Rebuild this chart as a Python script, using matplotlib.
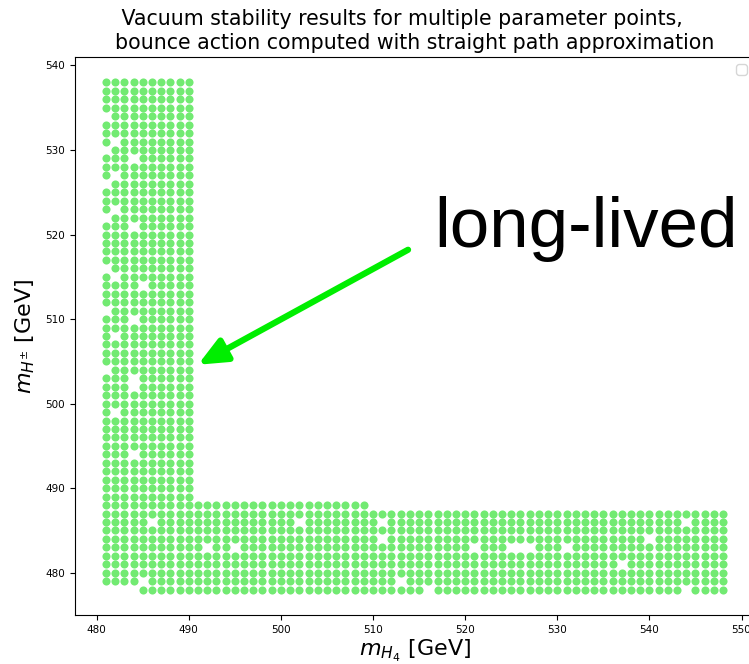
import numpy as np
import matplotlib
matplotlib.use("Agg")
import matplotlib.pyplot as plt

# Scan grid (GeV)
m_H4 = np.arange(481, 549)
m_Hpm = np.arange(478, 539)

# Extent of the scanned L-shaped region, per m_H4 column
col_top_edges = [(490, 538), (509, 488), (548, 487)]   # (last m_H4, top m_Hpm)
col_bottom_edges = [(484, 479), (548, 478)]            # (last m_H4, bottom m_Hpm)

# Parameter points with no result (m_H4, m_Hpm)
missing_upper = [
    (481, 534), (482, 531), (481, 530), (484, 529), (482, 527), (481, 526),
    (482, 523), (481, 522), (484, 521), (481, 516), (482, 515), (485, 514),
    (481, 511), (484, 510), (482, 508), (481, 504), (484, 503), (484, 502),
    (482, 499), (484, 494),
]
missing_lower = [
    (486, 486), (502, 486), (511, 486), (544, 486),
    (511, 484), (540, 484),
    (492, 483), (495, 483), (521, 483), (525, 483), (526, 483), (527, 483),
    (531, 483),
    (537, 481),
    (485, 479), (513, 479),
    (516, 478), (544, 478),
]


def edge_for(x, edges):
    for last, val in edges:
        if x <= last:
            return val
    return edges[-1][1]


pts_x, pts_y = [], []
missing_set = set(missing_upper + missing_lower)
for x in m_H4:
    top = edge_for(x, col_top_edges)
    bottom = edge_for(x, col_bottom_edges)
    for y in m_Hpm:
        if bottom <= y <= top and (x, y) not in missing_set:
            pts_x.append(x)
            pts_y.append(y)

fig = plt.figure(figsize=(7.49, 6.64), dpi=100)
ax = fig.add_axes([75 / 749, 1 - 615 / 664, 679 / 749, 558 / 664])

ax.scatter(pts_x, pts_y, s=34, color="#72ea72", linewidths=0)
ax.set_xlim(477.65, 551.35)
ax.set_ylim(475.0, 541.0)
ax.tick_params(labelsize=7.5)

ax.set_title(" Vacuum stability results for multiple parameter points,\n"
             "bounce action computed with straight path approximation",
             fontsize=14.8, pad=6, linespacing=1.2, multialignment="left")
ax.set_xlabel(r"$m_{H_4}$ [GeV]", fontsize=16, labelpad=2)
ax.set_ylabel(r"$m_{H^{\pm}}$ [GeV]", fontsize=16, labelpad=6)
ax.legend(handles=[], loc="upper right")

ax.annotate("", xy=(491.0, 504.6), xytext=(513.8, 518.2),
            arrowprops=dict(arrowstyle="-|>,head_length=1.7,head_width=0.75",
                            color="#00ee00", lw=4.5, shrinkA=0, shrinkB=0))
ax.text(516.6, 516.8, "long-lived", fontsize=51, family="Liberation Sans",
        color="black", ha="left", va="bottom")

fig.savefig("out.png", dpi=100)
